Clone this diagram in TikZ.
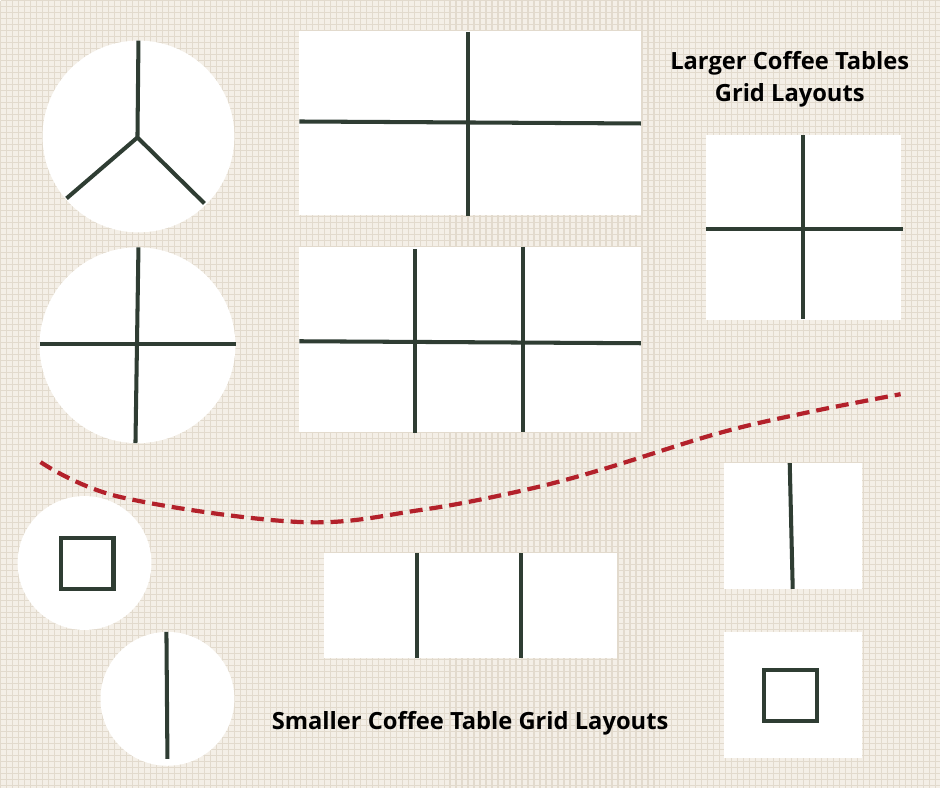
\documentclass[tikz,border=0pt]{standalone}
\usepackage{fontspec}
\setmainfont{Open Sans}
\usepackage{tikz}
\usetikzlibrary{calc}
\definecolor{burlap}{HTML}{F4EFE7}
\definecolor{weave}{HTML}{E2DACD}
\definecolor{slate}{HTML}{2F3D33}
\definecolor{brick}{HTML}{B3212B}
\tikzset{
  tabletop/.style={fill=white,draw=none},
  divider/.style={draw=slate,line width=2.3pt},
  heading/.style={font=\fontsize{13.5}{18}\selectfont\bfseries,text=black,align=center},
}

\begin{document}
\begin{tikzpicture}[x=0.02cm,y=-0.02cm]
  \fill[burlap] (0,0) rectangle (940,788);
  \foreach \k in {0,6,...,936} \draw[weave,line width=0.7pt] (\k,0) -- (\k,788);
  \foreach \k in {0,6,...,786} \draw[weave,line width=0.5pt] (0,\k) -- (940,\k);
  \useasboundingbox (0,0) rectangle (940,788);
  % round tables, left column
  \fill[tabletop] (138,136) circle (96);
  \draw[divider] (138,40) -- (137,137) -- (66,198);
  \draw[divider] (137,137) -- (204,203);
  \fill[tabletop] (137,345) circle (98);
  \draw[divider] (39,344) -- (236,344);
  \draw[divider] (138,247) -- (135,443);
  % long tables
  \fill[tabletop] (299,30) rectangle (641,215);
  \draw[divider] (299,121) -- (641,123);
  \draw[divider] (468,31) -- (468,216);
  \fill[tabletop] (299,247) rectangle (641,432);
  \draw[divider] (299,341) -- (641,343);
  \draw[divider] (415,249) -- (415,433);
  \draw[divider] (523,247) -- (523,432);
  % square table
  \fill[tabletop] (706,135) rectangle (901,320);
  \draw[divider] (706,229) -- (903,229);
  \draw[divider] (803,135) -- (803,319);
  \node[heading] (largetitle) at (790,79) {Larger Coffee Tables\\Grid Layouts};
  % split between large and small
  \draw[brick,line width=2.4pt,dash pattern=on 0.26cm off 0.14cm]
    plot[smooth,tension=0.6] coordinates {(40,462) (120,497) (300,522) (420,510) (520,491) (600,470) (719,433) (809,412) (901,394)};
  % small tables
  \fill[tabletop] (84,563) circle (67);
  \draw[divider] (60,538) rectangle (113,589);
  \fill[tabletop] (167,699) circle (67);
  \draw[divider] (166,632) -- (167,759);
  \fill[tabletop] (324,553) rectangle (617,658);
  \draw[divider] (417,553) -- (417,658);
  \draw[divider] (521,553) -- (521,658);
  \fill[tabletop] (724,463) rectangle (862,589);
  \draw[divider] (790,463) -- (793,589);
  \fill[tabletop] (724,632) rectangle (862,758);
  \draw[divider] (764,670) rectangle (817,721);
  \node[heading] (smalltitle) at (470,723) {Smaller Coffee Table Grid Layouts};
\end{tikzpicture}
\end{document}
